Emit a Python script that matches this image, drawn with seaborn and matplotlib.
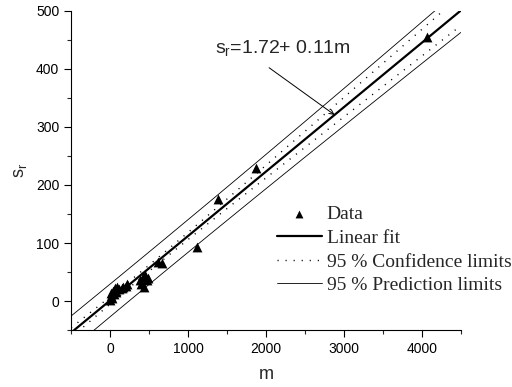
import numpy as np
import pandas as pd
import matplotlib
matplotlib.use("Agg")
import matplotlib.pyplot as plt
import seaborn as sns

# Data
m_vals = [0, 5, 15, 25, 35, 45, 60, 75, 90, 110, 150, 170, 200, 220,
          380, 400, 420, 440, 450, 470, 480, 610, 670, 1110, 1380, 1870, 4070]
sr_vals = [2, 8, 14, 5, 18, 12, 22, 16, 24, 20, 22, 25, 26, 29,
           36, 30, 41, 24, 45, 36, 40, 67, 65, 93, 175, 230, 455]

fit_label = r"$\mathregular{s_r}$=1.72+ 0.11m"
legend_labels = ["Data", "Linear fit", "95 % Confidence limits", "95 % Prediction limits"]
x_ticks = [0, 1000, 2000, 3000, 4000]
y_ticks = [0, 100, 200, 300, 400, 500]

df = pd.DataFrame({"m": m_vals, "sr": sr_vals})

# Linear regression with 95 % bands
x = df["m"].to_numpy(float)
y = df["sr"].to_numpy(float)
n = len(x)
slope, intercept = np.polyfit(x, y, 1)
resid = y - (intercept + slope * x)
s = np.sqrt((resid ** 2).sum() / (n - 2))
t = 2.06
sxx = ((x - x.mean()) ** 2).sum()

xs = np.linspace(-500, 4500, 200)
yfit = intercept + slope * xs
conf = t * s * np.sqrt(1 / n + (xs - x.mean()) ** 2 / sxx)
pred = t * s * np.sqrt(1 + 1 / n + (xs - x.mean()) ** 2 / sxx)
lines = pd.DataFrame({"m": xs, "fit": yfit,
                      "cl": yfit - conf, "cu": yfit + conf,
                      "pl": yfit - pred, "pu": yfit + pred})

sns.set_style("ticks")
plt.rcParams["font.family"] = ["Liberation Sans", "DejaVu Sans"]
plt.rcParams["xtick.direction"] = "out"
plt.rcParams["ytick.direction"] = "out"

fig = plt.figure(figsize=(5.12, 3.87), dpi=100)
ax = fig.add_axes([0.139, 0.147, 0.761, 0.825])

sns.scatterplot(data=df, x="m", y="sr", marker="^", s=50, color="black",
                edgecolor="black", linewidth=0, ax=ax, label=legend_labels[0], zorder=5)
sns.lineplot(data=lines, x="m", y="fit", color="black", linewidth=1.6, ax=ax,
             label=legend_labels[1])
sns.lineplot(data=lines, x="m", y="cu", color="black", linewidth=1.0,
             linestyle=(0, (0.8, 5)), ax=ax, label=legend_labels[2])
sns.lineplot(data=lines, x="m", y="cl", color="black", linewidth=1.0,
             linestyle=(0, (0.8, 5)), ax=ax)
sns.lineplot(data=lines, x="m", y="pu", color="black", linewidth=0.6, ax=ax,
             label=legend_labels[3])
sns.lineplot(data=lines, x="m", y="pl", color="black", linewidth=0.6, ax=ax)

ax.set_xlim(-500, 4500)
ax.set_ylim(-50, 500)
ax.set_xticks(x_ticks)
ax.set_yticks(y_ticks)
ax.set_xticks(np.arange(-500, 4501, 500), minor=True)
ax.set_yticks(np.arange(-50, 501, 50), minor=True)
ax.tick_params(which="major", length=5, width=0.8, labelsize=10, colors="black")
ax.tick_params(which="minor", length=3, width=0.8)
ax.set_xlabel("m", fontsize=13, labelpad=7)
ax.set_ylabel(r"$\mathregular{s_r}$", fontsize=13, labelpad=5)
sns.despine(ax=ax)
for sp in ax.spines.values():
    sp.set_linewidth(0.8)
    sp.set_color("black")

# Equation text and arrow pointing to the fit line
ax.text(1345, 436, fit_label, fontsize=14, ha="left", va="center")
xa = 2880
ax.annotate("", xy=(xa, intercept + slope * xa), xytext=(2040, 402),
            arrowprops=dict(arrowstyle="->", color="black", lw=0.7,
                            shrinkA=0, shrinkB=0, mutation_scale=8))

ax.legend(loc="upper left", bbox_to_anchor=(0.508, 0.414), frameon=False,
          prop={"family": "Liberation Serif", "size": 14},
          handlelength=2.3, handletextpad=0.26, labelspacing=0.31,
          borderaxespad=0, markerscale=0.8)

fig.savefig("out.png", dpi=100)
